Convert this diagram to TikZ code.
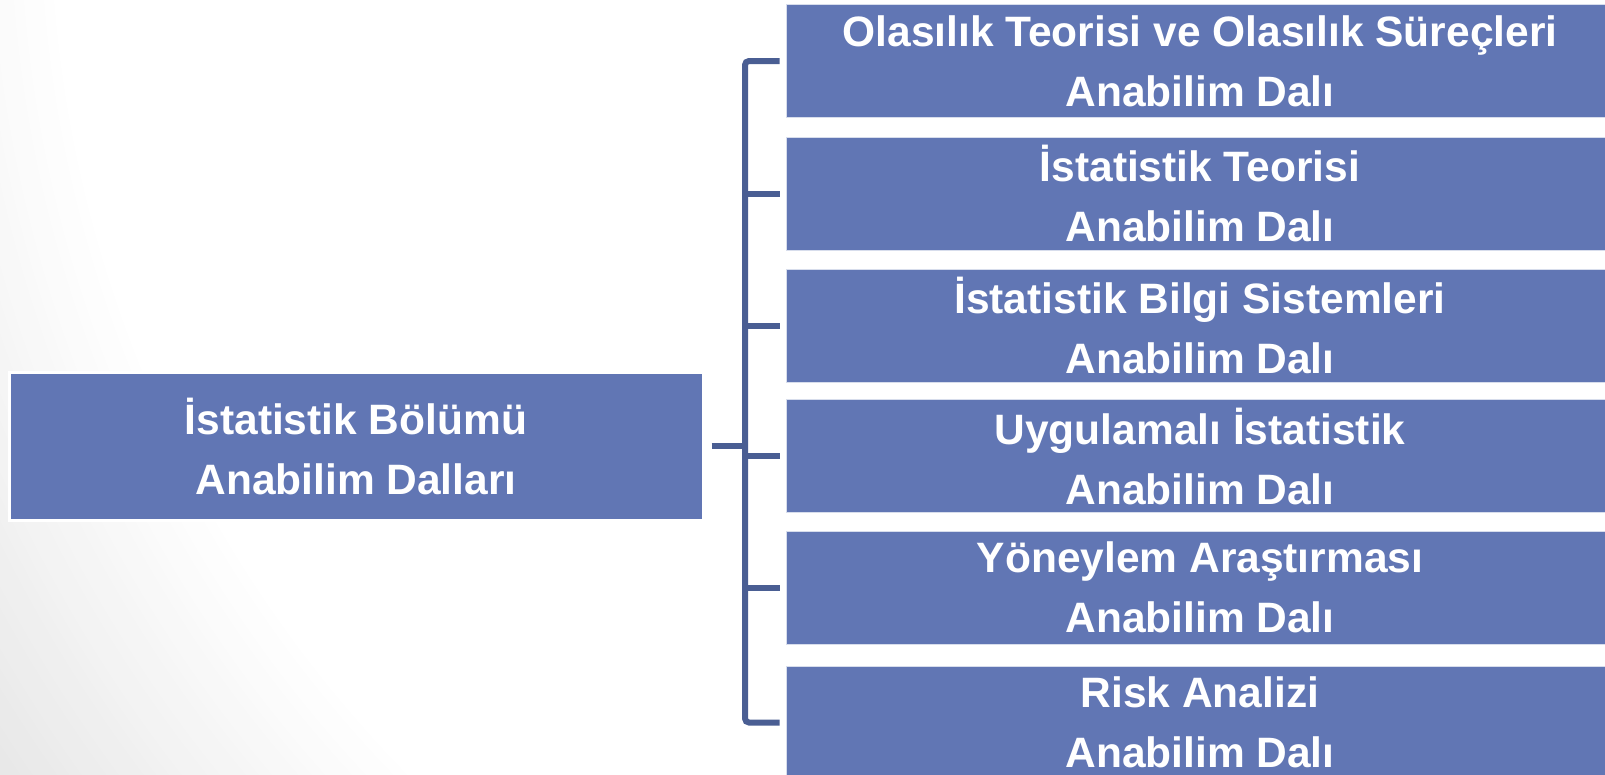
\documentclass[tikz,border=0pt]{standalone}
\usepackage{fontspec}
\setmainfont{Liberation Sans}
\definecolor{boxblue}{RGB}{97,118,180}
\definecolor{linkblue}{RGB}{74,94,147}
\begin{document}
\begin{tikzpicture}[x=1pt,y=-1pt,
  box/.style={fill=boxblue, draw=white!75!boxblue, line width=0.8pt, text=white,
    font=\bfseries\fontsize{42.5}{60}\selectfont, align=center, inner sep=0pt,
    minimum width=828pt, minimum height=113pt},
  rootbox/.style={box, draw=white, line width=3pt, minimum width=694pt, minimum height=148pt},
  conn/.style={draw=linkblue, line width=6pt}]
\path[use as bounding box] (0,0) rectangle (1605,774);
\begin{scope}
\clip (0,0) rectangle (1605,774);
\fill[black!13] (0,0) rectangle (1605,774);
\foreach \i in {0,...,45}{
  \pgfmathsetmacro\rr{1700-\i*10}
  \pgfmathsetmacro\gg{13-\i*13/45}
  \fill[black!\gg] (1300,-100) circle (\rr);
}
\fill[white] (1300,-100) circle (1240);
\node[rootbox] (root) at (356,446) {İstatistik Bölümü\\Anabilim Dalları};
\node[box] (b1) at (1200,61) {Olasılık Teorisi ve Olasılık Süreçleri\\Anabilim Dalı};
\node[box] (b2) at (1200,194) {İstatistik Teorisi\\Anabilim Dalı};
\node[box] (b3) at (1200,325.5) {İstatistik Bilgi Sistemleri\\Anabilim Dalı};
\node[box] (b4) at (1200,456) {Uygulamalı İstatistik\\Anabilim Dalı};
\node[box] (b5) at (1200,587.5) {Yöneylem Araştırması\\Anabilim Dalı};
\node[box] (b6) at (1200,722.5) {Risk Analizi\\Anabilim Dalı};
\coordinate (top) at (745,61);
\coordinate (bot) at (745,722.5);
\coordinate (jn) at (745,446);
\draw[conn, rounded corners=4pt] ([xshift=-6pt]b1.west) -- (top) -- (bot) -- ([xshift=-6pt]b6.west);
\foreach \b in {b2,b3,b4,b5}{
  \draw[conn] (jn |- \b.west) -- ([xshift=-6pt]\b.west);
}
\draw[conn] ([xshift=7pt]root.east) -- (jn);
\end{scope}
\end{tikzpicture}
\end{document}
